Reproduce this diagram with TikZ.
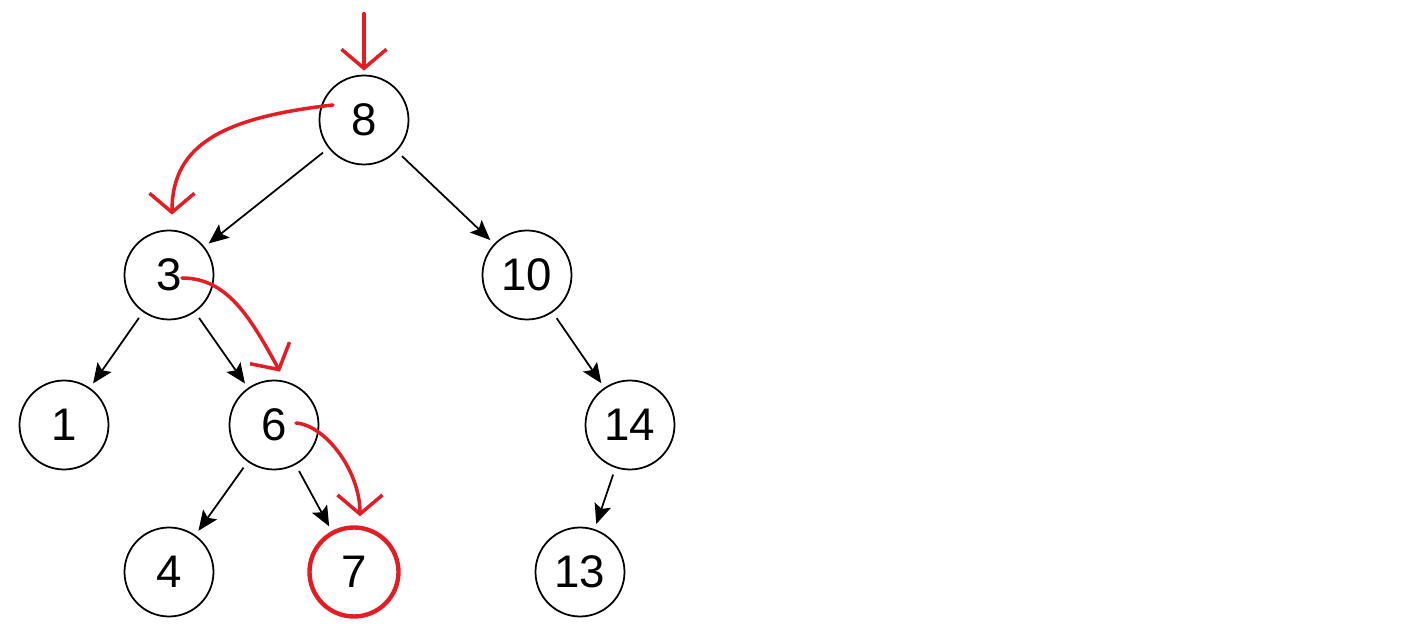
\documentclass[tikz,border=0pt]{standalone}
\usepackage{fontspec}
\setmainfont{Liberation Sans}
\usepackage{xcolor}
\usepackage{tikz}
\usetikzlibrary{arrows.meta,positioning}
\definecolor{markred}{RGB}{228,28,36}

\begin{document}
\begin{tikzpicture}[
			on grid,
			vertex/.style={draw,circle,line width=1pt,minimum size=1.78cm,inner sep=0pt,font=\fontsize{26}{31}\selectfont},
			edge/.style={-{Stealth[length=4mm,width=3.4mm,inset=0.8mm]},line width=1pt,shorten <=4pt,shorten >=3pt},
			trace/.style={-{Straight Barb[length=3.8mm,width=9mm]},draw=markred,line width=2pt,line cap=round}
			]
			\useasboundingbox (0,0) rectangle (28.54,-12.8);
			\node[vertex] (n8) at (7.28,-2.40) {8};
			\node[vertex, below left=3.1 and 3.9 of n8] (n3) {3};
			\node[vertex, below right=3.1 and 3.26 of n8] (n10) {10};
			\node[vertex, below left=3.0 and 2.1 of n3] (n1) {1};
			\node[vertex, below right=3.0 and 2.1 of n3] (n6) {6};
			\node[vertex, below right=3.0 and 2.06 of n10] (n14) {14};
			\node[vertex, below left=2.94 and 2.1 of n6] (n4) {4};
			\node[vertex, below right=2.94 and 1.6 of n6, draw=markred, line width=2.5pt] (n7) {7};
			\node[vertex, below left=2.94 and 1.0 of n14] (n13) {13};
			\draw[edge] (n8)--(n3);
			\draw[edge] (n8)--(n10);
			\draw[edge] (n3)--(n1);
			\draw[edge] (n3)--(n6);
			\draw[edge] (n10)--(n14);
			\draw[edge] (n6)--(n4);
			\draw[edge] (n6)--(n7);
			\draw[edge] (n14)--(n13);
			% search path
			\coordinate (entry) at ([yshift=1.22cm]n8.north);
			\draw[trace, shorten >=0.08cm] (entry)--(n8.north);
			\draw[trace] ([shift={(-0.62,0.3)}]n8.center) .. controls +(-2.2,-0.25) and +(0,1.4) .. ([shift={(0.06,0.3)}]n3.north);
			\draw[trace] ([shift={(0.26,-0.06)}]n3.center) .. controls +(0.9,0) and +(-0.6,1.1) .. ([shift={(0.12,0.16)}]n6.north);
			\draw[trace] ([shift={(0.44,0.04)}]n6.center) .. controls +(0.6,-0.05) and +(0,0.9) .. ([shift={(0.12,0.18)}]n7.north);
		\end{tikzpicture}
\end{document}
